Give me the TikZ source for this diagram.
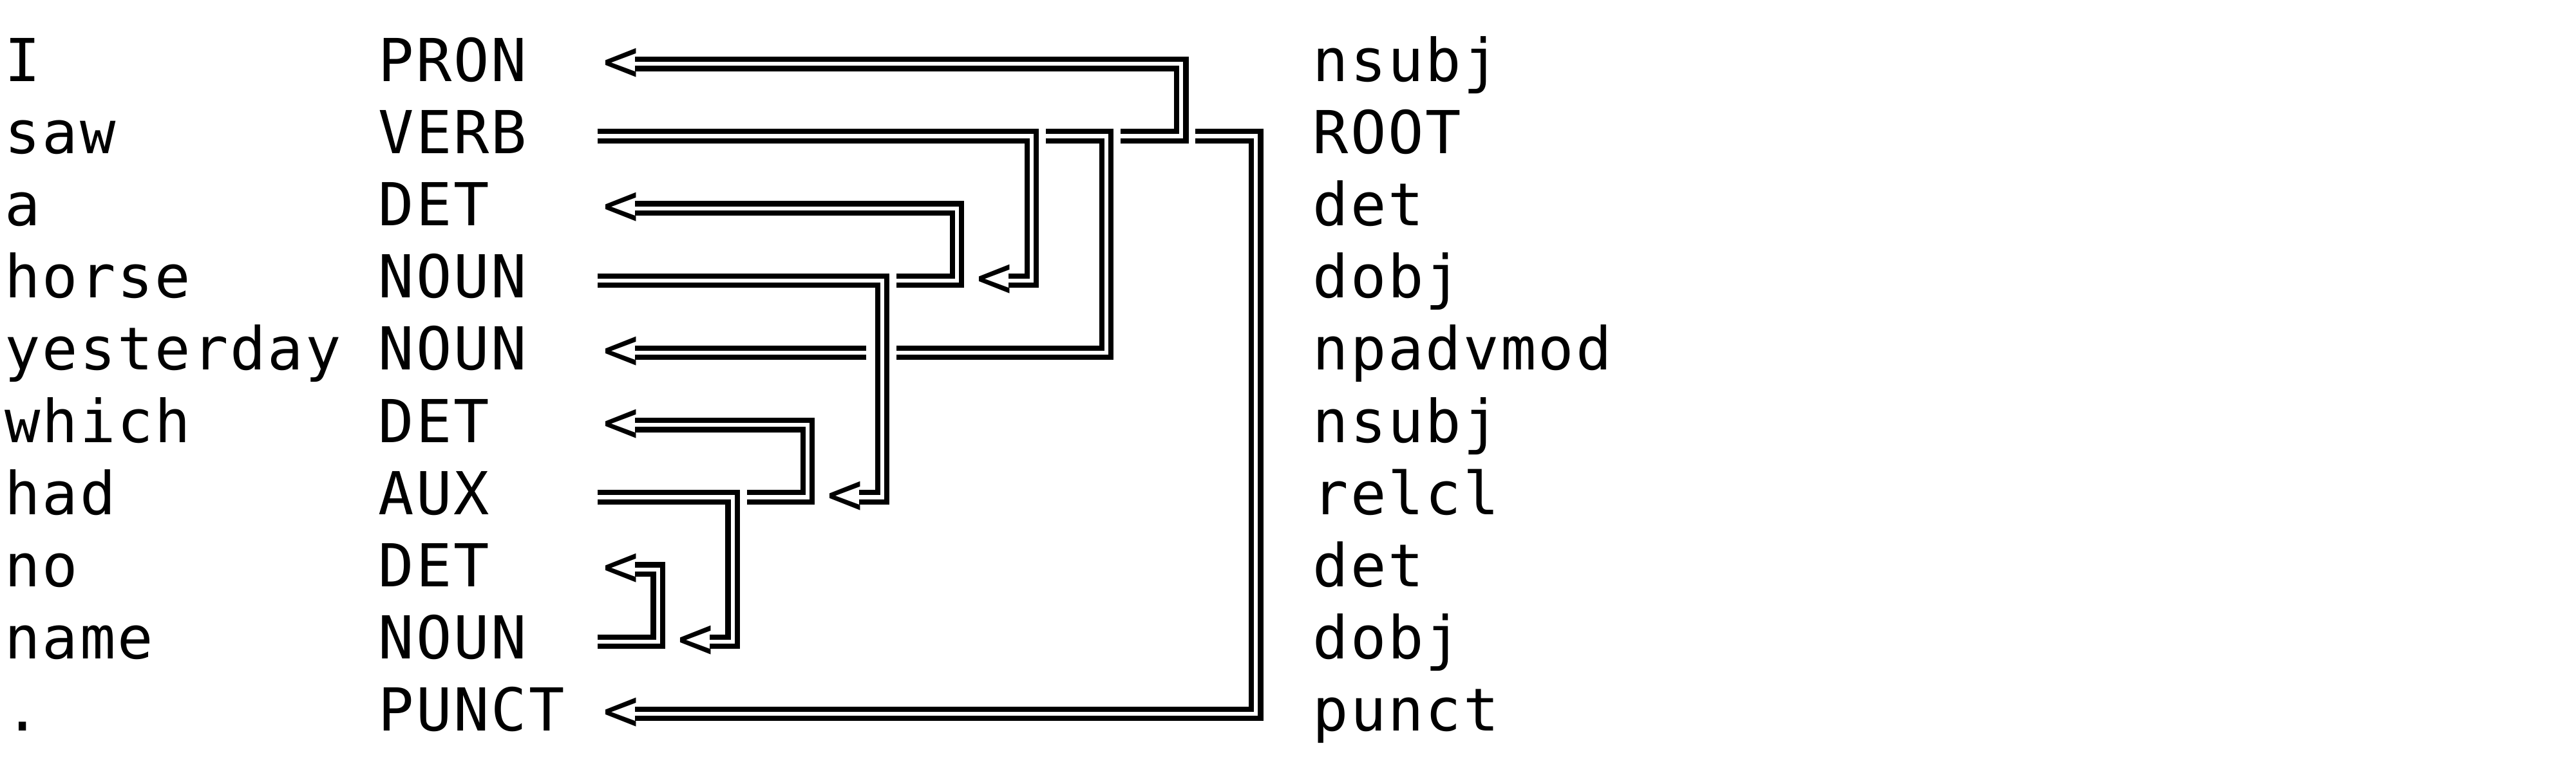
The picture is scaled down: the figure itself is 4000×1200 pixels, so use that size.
\documentclass[tikz,border=0pt]{standalone}
\usepackage{fontspec}
\newfontfamily\djm[LetterSpace=3.2]{DejaVu Sans Mono}
\newcommand\colx[1]{(35+58.04*(#1))}
\newcommand\cell[1]{(35+58.04*(#1)-29.02)}
\newcommand\rowy[1]{(99.3+112.2*((#1)-1))}
\newcommand\basey[1]{(126+112.2*((#1)-1))}
\begin{document}
\begin{tikzpicture}[x=0.1pt,y=-0.1pt,
  txt/.style={font=\djm\fontsize{9.2pt}{11.22pt}\selectfont, inner sep=0pt, outer sep=0pt, anchor=base west, text=black},
  dep/.style={draw=black, double=white, double distance=0.62pt, line width=0.82pt, line join=miter, line cap=butt}]
\useasboundingbox[fill=white] (0,0) rectangle (4000,1200);

% words, tags, relations
\foreach \r/\w/\p/\d in {1/I/PRON/nsubj, 2/saw/VERB/ROOT, 3/a/DET/det, 4/horse/NOUN/dobj,
  5/yesterday/NOUN/npadvmod, 6/which/DET/nsubj, 7/had/AUX/relcl, 8/no/DET/det,
  9/name/NOUN/dobj, 10/./PUNCT/punct}{
  \node[txt] (w\r) at ({\cell{0}+1.5},{\basey{\r}}) {\w};
  \node[txt] (p\r) at ({\cell{10}+1.5},{\basey{\r}}) {\p};
  \node[txt] (d\r) at ({\cell{35}+1.5},{\basey{\r}}) {\d};
}

% arrow heads
\foreach \n/\c/\r in {I/16/1, a/16/3, horse/26/4, yest/16/5, which/16/6, had/22/7, no/16/8, name/18/9, dot/16/10}{
  \node[txt] (arr-\n) at ({\cell{\c}+1.5},{\basey{\r}}) {<};
}

% connector end points
\coordinate (s-dobj1) at ({\colx{16}-36},{\rowy{2}});
\coordinate (k-dobj1) at ({\colx{27}},{\rowy{4}});
\coordinate (e-dobj1) at ({\colx{27}-36},{\rowy{4}});

\coordinate (s-npad) at ({\colx{28}-36},{\rowy{2}});
\coordinate (k-npad) at ({\colx{29}},{\rowy{5}});
\coordinate (x-npad-a) at ({\colx{24}-36},{\rowy{5}});
\coordinate (x-npad-b) at ({\colx{22}+33.5},{\rowy{5}});
\coordinate (e-npad) at ({\colx{17}-36},{\rowy{5}});

\coordinate (s-nsubj1) at ({\colx{30}-36},{\rowy{2}});
\coordinate (k-nsubj1) at ({\colx{31}},{\rowy{1}});
\coordinate (e-nsubj1) at ({\colx{17}-36},{\rowy{1}});

\coordinate (s-punct) at ({\colx{32}-36},{\rowy{2}});
\coordinate (k-punct) at ({\colx{33}},{\rowy{10}});
\coordinate (e-punct) at ({\colx{17}-36},{\rowy{10}});

\coordinate (s-relcl) at ({\colx{16}-36},{\rowy{4}});
\coordinate (k-relcl) at ({\colx{23}},{\rowy{7}});
\coordinate (e-relcl) at ({\colx{23}-36},{\rowy{7}});

\coordinate (s-det1) at ({\colx{24}-36},{\rowy{4}});
\coordinate (k-det1) at ({\colx{25}},{\rowy{3}});
\coordinate (e-det1) at ({\colx{17}-36},{\rowy{3}});

\coordinate (s-dobj2) at ({\colx{16}-36},{\rowy{7}});
\coordinate (k-dobj2) at ({\colx{19}},{\rowy{9}});
\coordinate (e-dobj2) at ({\colx{19}-36},{\rowy{9}});

\coordinate (s-nsubj2) at ({\colx{20}-36},{\rowy{7}});
\coordinate (k-nsubj2) at ({\colx{21}},{\rowy{6}});
\coordinate (e-nsubj2) at ({\colx{17}-36},{\rowy{6}});

\coordinate (s-det2) at ({\colx{16}-36},{\rowy{9}});
\coordinate (k-det2) at ({\colx{17}},{\rowy{8}});
\coordinate (e-det2) at ({\colx{17}-36},{\rowy{8}});

% connectors
\draw[dep] (s-dobj1) -| (k-dobj1) -- (e-dobj1);
\draw[dep] (s-npad) -| (k-npad) -- (x-npad-a);
\draw[dep] (x-npad-b) -- (e-npad);
\draw[dep] (s-nsubj1) -| (k-nsubj1) -- (e-nsubj1);
\draw[dep] (s-punct) -| (k-punct) -- (e-punct);
\draw[dep] (s-relcl) -| (k-relcl) -- (e-relcl);
\draw[dep] (s-det1) -| (k-det1) -- (e-det1);
\draw[dep] (s-dobj2) -| (k-dobj2) -- (e-dobj2);
\draw[dep] (s-nsubj2) -| (k-nsubj2) -- (e-nsubj2);
\draw[dep] (s-det2) -| (k-det2) -- (e-det2);
\end{tikzpicture}
\end{document}
